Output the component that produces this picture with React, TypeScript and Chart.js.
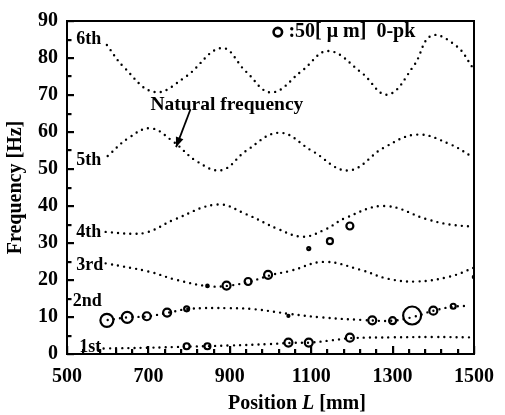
import { useEffect, useRef } from "react";
import { Chart, registerables } from "chart.js";

Chart.register(...registerables);

// ---- Data ----
const xTickLabels = [500, 700, 900, 1100, 1300, 1500];
const yTickLabels = [0, 10, 20, 30, 40, 50, 60, 70, 80, 90];

// Natural frequency curves (position mm, frequency Hz)
const mode1X = [590, 700, 800, 900, 1000, 1050, 1100, 1150, 1200, 1300, 1400, 1490];
const mode1Hz = [1.5, 1.7, 2.0, 2.3, 2.7, 3.0, 3.1, 3.7, 4.3, 4.5, 4.6, 4.5];

const mode2X = [600, 650, 700, 750, 800, 900, 960, 1050, 1125, 1225, 1300, 1350, 1400, 1450, 1490];
const mode2Hz = [9.2, 9.9, 10.2, 11.2, 12.2, 12.4, 12.1, 10.8, 9.9, 9.2, 9.0, 10.0, 11.7, 12.8, 13.0];

const mode3X = [595, 700, 770, 850, 900, 950, 1000, 1050, 1130, 1220, 1290, 1360, 1440, 1500];
const mode3Hz = [24.5, 22.3, 20.0, 18.3, 18.5, 19.6, 21.3, 22.5, 24.9, 22.8, 20.3, 19.6, 20.9, 23.3];

const mode4X = [595, 660, 700, 765, 870, 940, 1020, 1080, 1135, 1185, 1280, 1385, 1440, 1500];
const mode4Hz = [33.0, 32.5, 33.0, 36.4, 40.4, 37.8, 33.7, 31.7, 33.7, 36.8, 40.0, 36.4, 35.0, 34.4];

const mode5X = [600, 650, 705, 760, 820, 880, 940, 1022, 1102, 1191, 1279, 1360, 1441, 1497];
const mode5Hz = [53.5, 58.3, 61.0, 57.5, 52.0, 49.7, 54.9, 59.8, 54.9, 49.6, 55.8, 59.3, 56.7, 53.2];

const mode6X = [598, 640, 715, 790, 880, 940, 1002, 1078, 1142, 1223, 1287, 1352, 1395, 1457, 1497];
const mode6Hz = [83.5, 77.5, 70.8, 74.8, 82.7, 76.3, 70.7, 76.6, 81.9, 76.1, 70.1, 77.9, 86.0, 83.2, 77.4];

// Measured vibration (position mm, frequency Hz, amplitude um 0-pk)
const measX = [598, 648, 696, 746, 794, 794, 845, 845, 892, 945, 994, 1044, 1044, 1094, 1094, 1146, 1195, 1195, 1250, 1300, 1348, 1400, 1449, 1500];
const measHz = [9.1, 9.9, 10.2, 11.2, 12.2, 2.1, 2.1, 18.4, 18.5, 19.6, 21.4, 10.3, 3.1, 3.1, 28.5, 30.5, 34.6, 4.4, 9.1, 9.0, 10.4, 11.7, 12.9, 20.8];
const measAmpUm = [65, 55, 40, 40, 25, 30, 30, 12, 40, 35, 40, 10, 40, 40, 15, 30, 35, 40, 40, 35, 90, 40, 25, 12];

const modeNames = ["1st", "2nd", "3rd", "4th", "5th", "6th"];
const legendAmpUm = 50;

const SERIF = "'Liberation Serif', 'Times New Roman', serif";
const PX_PER_UM = 0.1;

function toPts(xs: number[], ys: number[]) {
  return xs.map((x, i) => ({ x, y: ys[i] }));
}

const curveStyle = {
  type: "line" as const,
  borderColor: "#000",
  borderWidth: 2.4,
  borderDash: [0, 6.2],
  borderCapStyle: "round" as const,
  pointRadius: 0,
  fill: false,
  tension: 0.4,
};

const decorPlugin = {
  id: "decor",
  afterDraw(chart: any) {
    const { ctx, chartArea: a, scales } = chart;
    const xs = scales.x;
    const ys = scales.y;
    const px = (v: number) => xs.getPixelForValue(v);
    const py = (v: number) => ys.getPixelForValue(v);
    ctx.save();
    ctx.strokeStyle = "#000";
    ctx.fillStyle = "#000";
    ctx.setLineDash([]);
    // frame
    ctx.lineWidth = 2;
    ctx.strokeRect(a.left, a.top, a.right - a.left, a.bottom - a.top);
    // inward ticks
    for (let v = 0; v <= 90; v += 5) {
      const len = v % 10 === 0 ? 7 : 4.5;
      const y = Math.round(py(v));
      ctx.fillRect(a.left, y - 1, len, 2.2);
    }
    for (let v = 500; v <= 1500; v += 40) {
      const len = (v - 500) % 200 === 0 ? 8 : 5;
      const x = Math.round(px(v));
      ctx.fillRect(x - 1, a.bottom - len, 2.2, len);
    }

    // mode labels
    ctx.font = `bold 18px ${SERIF}`;
    ctx.textBaseline = "middle";
    ctx.textAlign = "left";
    const labelPos: [number, number][] = [
      [530, 1.9],
      [514, 14.3],
      [523, 24.0],
      [523, 32.8],
      [523, 52.3],
      [523, 85.0],
    ];
    modeNames.forEach((n, i) => {
      ctx.fillText(n, px(labelPos[i][0]), py(labelPos[i][1]));
    });

    // Natural frequency annotation
    ctx.font = `bold 19.5px ${SERIF}`;
    ctx.fillText("Natural frequency", px(705), py(67.3));
    const x1 = px(803), y1 = py(66.0), x2 = px(768), y2 = py(55.9);
    ctx.lineWidth = 1.8;
    ctx.beginPath();
    ctx.moveTo(x1, y1);
    ctx.lineTo(x2, y2);
    ctx.stroke();
    const ang = Math.atan2(y2 - y1, x2 - x1);
    const hl = 10, hw = 4;
    ctx.beginPath();
    ctx.moveTo(x2, y2);
    ctx.lineTo(x2 - hl * Math.cos(ang) + hw * Math.sin(ang), y2 - hl * Math.sin(ang) - hw * Math.cos(ang));
    ctx.lineTo(x2 - hl * Math.cos(ang) - hw * Math.sin(ang), y2 - hl * Math.sin(ang) + hw * Math.cos(ang));
    ctx.closePath();
    ctx.fill();

    // amplitude legend
    ctx.lineWidth = 2.6;
    ctx.beginPath();
    ctx.arc(px(1018), py(87.0), legendAmpUm * PX_PER_UM * 0.85, 0, Math.PI * 2);
    ctx.stroke();
    ctx.font = `bold 20px ${SERIF}`;
    ctx.fillText(":50[ μ m]  0-pk", px(1044), py(87.0));

    // axis titles
    ctx.font = `bold 20px ${SERIF}`;
    const t1 = "Position ";
    const t2 = "L";
    const t3 = " [mm]";
    const w1 = ctx.measureText(t1).width;
    const w3 = ctx.measureText(t3).width;
    ctx.font = `italic bold 20px ${SERIF}`;
    const w2 = ctx.measureText(t2).width;
    const total = w1 + w2 + w3;
    let tx = 297 - total / 2;
    const ty = 404;
    ctx.textAlign = "left";
    ctx.font = `bold 20px ${SERIF}`;
    ctx.fillText(t1, tx, ty);
    tx += w1;
    ctx.font = `italic bold 20px ${SERIF}`;
    ctx.fillText(t2, tx, ty);
    tx += w2;
    ctx.font = `bold 20px ${SERIF}`;
    ctx.fillText(t3, tx, ty);

    ctx.translate(16, (a.top + a.bottom) / 2);
    ctx.rotate(-Math.PI / 2);
    ctx.textAlign = "center";
    ctx.fillText("Frequency [Hz]", 0, 0);
    ctx.restore();
  },
};

export default function App() {
  const ref = useRef<HTMLCanvasElement | null>(null);
  useEffect(() => {
    if (!ref.current) return;
    const curves = [
      toPts(mode1X, mode1Hz),
      toPts(mode2X, mode2Hz),
      toPts(mode3X, mode3Hz),
      toPts(mode4X, mode4Hz),
      toPts(mode5X, mode5Hz),
      toPts(mode6X, mode6Hz),
    ];
    const bubbles = measX.map((x, i) => ({ x, y: measHz[i], r: measAmpUm[i] * PX_PER_UM }));
    const tickFont = { family: SERIF, size: 20, weight: "bold" as const };
    const chart = new Chart(ref.current, {
      type: "line",
      data: {
        datasets: [
          ...curves.map((d, i) => ({ ...curveStyle, label: modeNames[i], data: d })),
          {
            type: "bubble" as const,
            label: "measured",
            data: bubbles,
            borderColor: "#000",
            borderWidth: 2.2,
            backgroundColor: "rgba(0,0,0,0)",
          } as any,
        ],
      },
      options: {
        responsive: false,
        animation: false,
        events: [],
        layout: { padding: { top: 14, right: 23, left: 0, bottom: 0 } },
        plugins: { legend: { display: false }, tooltip: { enabled: false }, title: { display: false } },
        scales: {
          x: {
            type: "linear",
            min: 500,
            max: 1500,
            afterBuildTicks: (s: any) => {
              s.ticks = xTickLabels.map((v) => ({ value: v }));
            },
            ticks: {
              color: "#000",
              font: tickFont,
              padding: 11,
              maxRotation: 0,
              autoSkip: false,
              callback: (v: any) => String(v),
            },
            grid: { display: false, drawTicks: false },
            border: { display: false },
            afterFit: (s: any) => {
              s.height = 61;
            },
          },
          y: {
            type: "linear",
            min: 0,
            max: 90,
            afterBuildTicks: (s: any) => {
              s.ticks = yTickLabels.map((v) => ({ value: v }));
            },
            ticks: { color: "#000", font: tickFont, padding: 9, callback: (v: any) => String(v) },
            grid: { display: false, drawTicks: false },
            border: { display: false },
            afterFit: (s: any) => {
              s.width = 67;
            },
          },
        },
      },
      plugins: [decorPlugin],
    });
    return () => chart.destroy();
  }, []);
  return (
    <div style={{ position: "fixed", left: 0, top: 0, width: 505, height: 415, background: "#fff" }}>
      <canvas ref={ref} width={505} height={415} style={{ display: "block" }} />
    </div>
  );
}
